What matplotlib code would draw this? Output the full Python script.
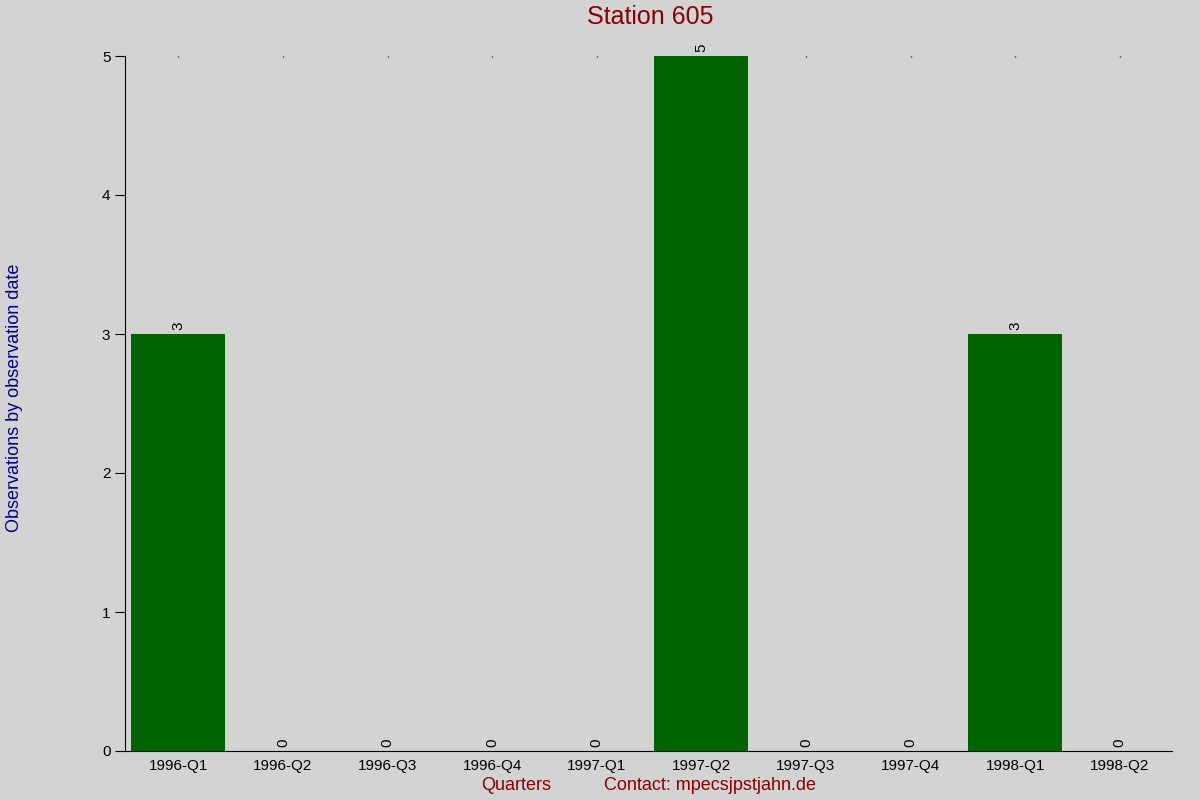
import matplotlib
matplotlib.use("Agg")
import matplotlib.pyplot as plt

plt.rcParams['font.family'] = ['Liberation Sans', 'DejaVu Sans']

# data
quarters = ["1996-Q1", "1996-Q2", "1996-Q3", "1996-Q4", "1997-Q1",
            "1997-Q2", "1997-Q3", "1997-Q4", "1998-Q1", "1998-Q2"]
counts = [3, 0, 0, 0, 0, 5, 0, 0, 3, 0]

bg = "#d3d3d3"
fig = plt.figure(figsize=(12, 8), dpi=100, facecolor=bg)
ax = fig.add_axes([125/1200, 49/800, 1047/1200, 695/800], facecolor=bg)

x = list(range(len(quarters)))
ax.bar(x, counts, width=0.9, color="#006400")

for i, v in enumerate(counts):
    ax.text(i, v + 0.03, str(v), rotation=90, ha="center", va="bottom",
            fontsize=11, color="black")

ax.set_xlim(-0.51, 9.5)
ax.set_ylim(0, 5)
ax.set_xticks(x)
ax.set_xticklabels(quarters, fontsize=11)
ax.set_yticks([0, 1, 2, 3, 4, 5])
ax.tick_params(axis="y", labelsize=11, length=7, direction="out")
ax.tick_params(axis="x", length=0, pad=6)

for s in ["top", "right"]:
    ax.spines[s].set_visible(False)

# tiny dots at top of each category
ax2 = ax.secondary_xaxis("top")
ax2.set_xticks(x)
ax2.set_xticklabels([])
ax2.tick_params(length=1, width=1, direction="in")
ax2.spines["top"].set_visible(False)

fig.text(0.5417, 1 - 17/800, "Station 605", color="#8b0000", fontsize=18,
         ha="center", va="center")
fig.text(0.012, 0.503, "Observations by observation date", rotation=90,
         color="#00008b", fontsize=13, ha="center", va="center")
fig.text(516/1200, 1 - 786/800, "Quarters", color="#8b0000", fontsize=13,
         ha="center", va="center")
fig.text(710/1200, 1 - 786/800, "Contact: mpecsjpstjahn.de", color="#8b0000",
         fontsize=13, ha="center", va="center")

fig.savefig("out.png", dpi=100, facecolor=bg)
